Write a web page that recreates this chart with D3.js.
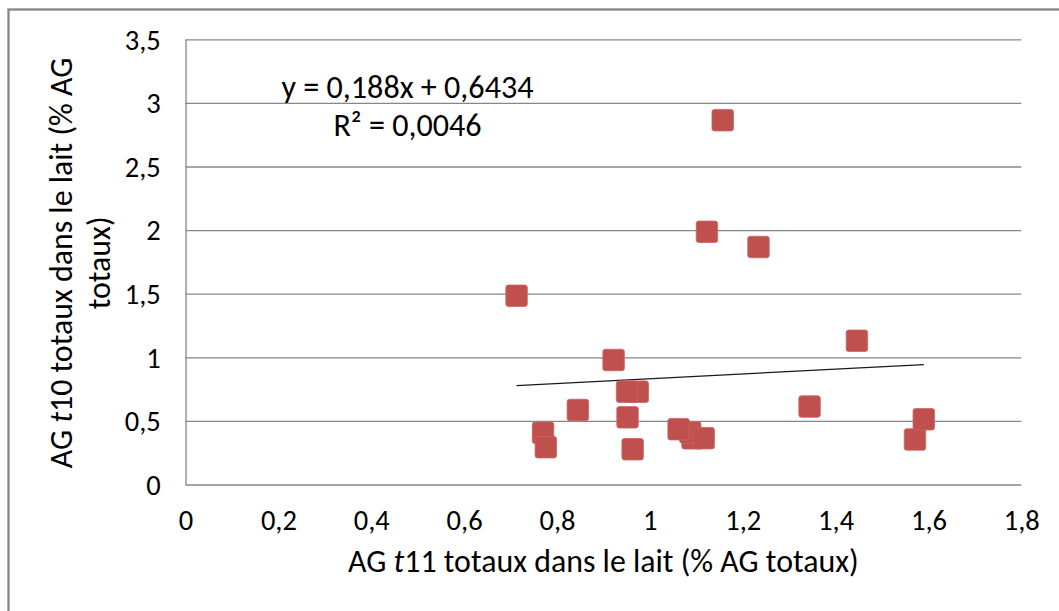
<!DOCTYPE html>
<html>
<head>
<meta charset="utf-8">
<script src="https://cdn.jsdelivr.net/npm/d3@7"></script>
<style>
  html, body { margin: 0; padding: 0; background: #fff; }
  svg { display: block; }
  text { font-family: Carlito, Calibri, Lato, sans-serif; fill: #000; }
</style>
</head>
<body>
<svg id="chart" width="1059" height="611"></svg>
<script>
// ---- data ----
const xValues = [0.713, 1.157, 1.123, 1.234, 1.446, 0.922, 0.974, 0.951, 0.845, 0.952,
                 0.770, 0.776, 0.963, 1.092, 1.087, 1.116, 1.062, 1.344, 1.571, 1.590];
const yValues = [1.484, 2.864, 1.987, 1.867, 1.130, 0.979, 0.730, 0.730, 0.586, 0.528,
                 0.407, 0.293, 0.277, 0.363, 0.410, 0.364, 0.435, 0.613, 0.354, 0.513];
const trendSlope = 0.188;
const trendIntercept = 0.6434;
const equationLines = ["y = 0,188x + 0,6434", "R² = 0,0046"];
const xTicks = [0, 0.2, 0.4, 0.6, 0.8, 1, 1.2, 1.4, 1.6, 1.8];
const xTickLabels = ["0", "0,2", "0,4", "0,6", "0,8", "1", "1,2", "1,4", "1,6", "1,8"];
const yTicks = [0, 0.5, 1, 1.5, 2, 2.5, 3, 3.5];
const yTickLabels = ["0", "0,5", "1", "1,5", "2", "2,5", "3", "3,5"];
const xTitle = ["AG ", "t", "11 totaux dans le lait (% AG totaux)"];
const yTitle1 = ["AG ", "t", "10 totaux dans le lait (% AG"];
const yTitle2 = "totaux)";

// ---- layout ----
const L = 185.5, R = 1021.3, T = 39.3, B = 484.5;
const svg = d3.select("#chart");
const x = d3.scaleLinear().domain([0, 1.8]).range([L, R]);
const y = d3.scaleLinear().domain([0, 3.5]).range([B, T]);
const gridColor = "#878787";

function fit(sel, target) {
  const w = sel.node().getBBox().width;
  const fs = parseFloat(sel.attr("font-size"));
  sel.attr("font-size", fs * target / w);
  return fs * target / w;
}

// outer border
svg.append("rect").attr("x", 8.5).attr("y", 9.5).attr("width", 1200).attr("height", 800)
  .attr("fill", "none").attr("stroke", "#858585").attr("stroke-width", 2.3);

// tick label size fitted on a sample
const probe = svg.append("text").attr("font-size", 26).text("0,2");
const tickFs = fit(probe, 36);
probe.remove();

// y axis with gridlines
const gy = svg.append("g").attr("transform", `translate(${L},0)`)
  .call(d3.axisLeft(y).tickValues(yTicks)
    .tickFormat((d, i) => yTickLabels[i])
    .tickSizeInner(-(R - L)).tickSizeOuter(0).tickPadding(24.8));
gy.select(".domain").attr("stroke", gridColor).attr("stroke-width", 1.3);
gy.selectAll(".tick line").attr("stroke", gridColor).attr("stroke-width", 1.3);
gy.selectAll(".tick text").attr("font-size", tickFs).attr("font-family", null)
  .attr("fill", "#000").attr("dy", "0.34em");

// x axis labels
const gx = svg.append("g").attr("transform", `translate(0,${B})`)
  .call(d3.axisBottom(x).tickValues(xTicks)
    .tickFormat((d, i) => xTickLabels[i]).tickSize(0).tickPadding(0));
gx.select(".domain").remove();
gx.selectAll(".tick text").attr("font-size", tickFs).attr("font-family", null)
  .attr("fill", "#000").attr("y", 35.5).attr("dy", "0.34em");

// trend line
const [xmin, xmax] = d3.extent(xValues);
svg.append("line")
  .attr("x1", x(xmin)).attr("y1", y(trendSlope * xmin + trendIntercept))
  .attr("x2", x(xmax)).attr("y2", y(trendSlope * xmax + trendIntercept))
  .attr("stroke", "#1a1a1a").attr("stroke-width", 1.3);

// markers
const size = 21.5;
svg.append("g").selectAll("rect").data(xValues.map((v, i) => [v, yValues[i]]))
  .join("rect")
  .attr("x", d => x(d[0]) - size / 2).attr("y", d => y(d[1]) - size / 2)
  .attr("width", size).attr("height", size).attr("rx", 2.5)
  .attr("fill", "#C0504D").attr("stroke", "#C96663").attr("stroke-width", 0.8);

// equation
const eq1 = svg.append("text").attr("x", 407.5).attr("y", 98).attr("text-anchor", "middle")
  .attr("font-size", 30).text(equationLines[0]);
const eqFs = fit(eq1, 252);
svg.append("text").attr("x", 407.5).attr("y", 136).attr("text-anchor", "middle")
  .attr("font-size", eqFs).text(equationLines[1]);

// x title
function richText(parent, parts) {
  const t = parent.append("text").attr("text-anchor", "middle").attr("font-size", 30);
  parts.forEach((p, i) => t.append("tspan").attr("font-style", i === 1 ? "italic" : null).text(p));
  return t;
}
const xt = richText(svg, xTitle).attr("x", (L + R) / 2).attr("y", 572);
const titleFs = fit(xt, 511);

// y title
richText(svg, yTitle1).attr("font-size", titleFs)
  .attr("transform", `translate(71.5,${(T + B) / 2 + 1}) rotate(-90)`);
svg.append("text").attr("text-anchor", "middle").attr("font-size", titleFs)
  .attr("transform", `translate(110,${(T + B) / 2 + 1}) rotate(-90)`).text(yTitle2);
</script>
</body>
</html>
